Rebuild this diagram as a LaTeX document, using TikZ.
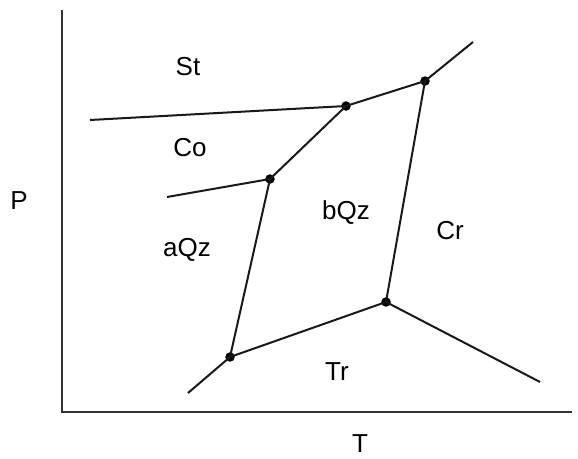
\documentclass[tikz,border=0pt]{standalone}
\usepackage{fontspec}
\setmainfont{Liberation Sans}
\begin{document}
\begin{tikzpicture}[x=1pt,y=-1pt,
  ln/.style={line width=2pt,black!90},
  ax/.style={line width=2.6pt,black!80},
  pt/.style={circle,fill=black,inner sep=0pt,minimum size=9.5pt},
  lab/.style={font=\fontsize{26}{30}\selectfont,inner sep=0pt}]
\useasboundingbox (0,0) rectangle (578,458);
% axes
\coordinate (o) at (62,412);
\coordinate (ytop) at (62,10);
\coordinate (xend) at (572,412);
\draw[ax] (ytop) -- (o) -- (xend);
% junctions
\node[pt] (A) at (346,106) {};
\node[pt] (B) at (425,81) {};
\node[pt] (C) at (270,179) {};
\node[pt] (D) at (386,302) {};
\node[pt] (E) at (230,357) {};
% free ends
\coordinate (a1) at (90,120);
\coordinate (b1) at (473,42);
\coordinate (c1) at (167,197);
\coordinate (e1) at (188,393);
\coordinate (d1) at (540,382);
\draw[ln] (a1) -- (A.center) -- (B.center) -- (b1);
\draw[ln] (A.center) -- (C.center) -- (E.center) -- (e1);
\draw[ln] (c1) -- (C.center);
\draw[ln] (E.center) -- (D.center) -- (B.center);
\draw[ln] (D.center) -- (d1);
% labels
\node[lab] (St) at (188,67) {St};
\node[lab] (Co) at (190,148) {Co};
\node[lab] (aQz) at (187,250) {aQz};
\node[lab] (bQz) at (346,213) {bQz};
\node[lab] (Cr) at (450,231) {Cr};
\node[lab] (Tr) at (337,372) {Tr};
\node[lab] (P) at (19,201) {P};
\node[lab] (T) at (360,444) {T};
\end{tikzpicture}
\end{document}
